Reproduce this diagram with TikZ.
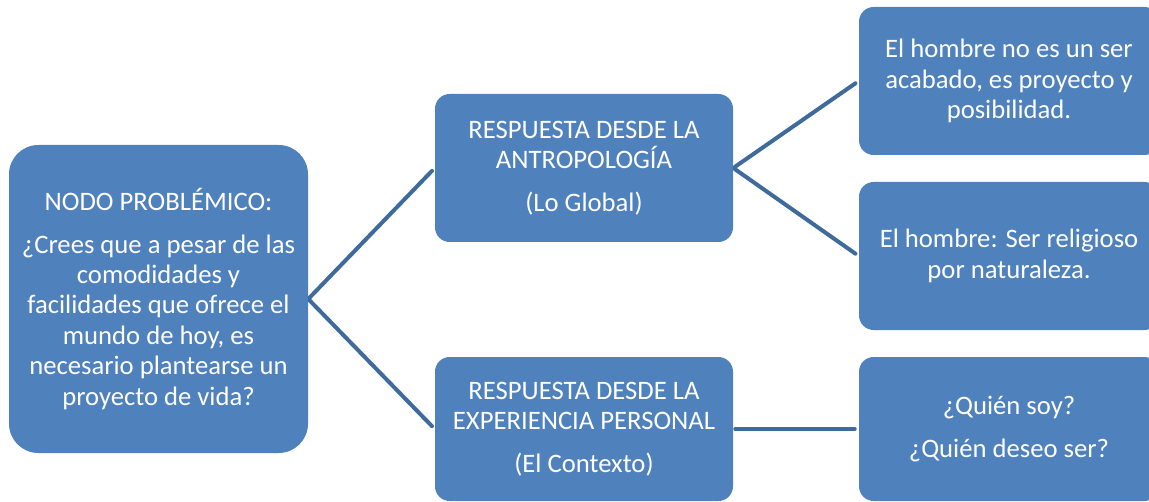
\documentclass[tikz,border=0pt]{standalone}
\usepackage{fontspec}
\setmainfont{Carlito}

\definecolor{boxblue}{HTML}{4F81BD}
\definecolor{lineblue}{HTML}{3F6A9C}

\begin{document}
\begin{tikzpicture}[x=0.75pt,y=-0.75pt,
    box/.style={rectangle, fill=boxblue, text=white, align=center, inner sep=0pt,
                font=\fontsize{20}{22.8}\selectfont},
    bigbox/.style={box, minimum width=224.25pt, minimum height=231pt, rounded corners=22pt},
    midbox/.style={box, minimum width=223.5pt, rounded corners=11pt},
    sidebox/.style={box, minimum width=225pt, rounded corners=11pt}]

        \useasboundingbox (0,0) rectangle (1149,502);

        \begin{scope}
          \node[bigbox] (1) at (158.5,299) {NODO PROBLÉMICO:\\[9pt]
            ¿Crees que a pesar de las\\ comodidades y\\ facilidades que ofrece el\\
            mundo de hoy, es\\ necesario plantearse un\\ proyecto de vida?};
          \node[midbox, minimum height=111pt] (2) at (584,168)
            {RESPUESTA DESDE LA\\ ANTROPOLOGÍA\\[9pt] (Lo Global)};
          \node[midbox, minimum height=108pt] (3) at (584,429)
            {RESPUESTA DESDE LA\\ EXPERIENCIA PERSONAL\\[9pt] (El Contexto)};
          \node[sidebox, minimum height=111pt] (4) at (1009,81)
            {El hombre no es un ser\\ acabado, es proyecto y\\ posibilidad.};
          \node[sidebox, minimum height=111pt] (5) at (1009,256)
            {El hombre: Ser religioso\\ por naturaleza.};
          \node[sidebox, minimum height=108pt] (6) at (1009,429)
            {¿Quién soy?\\[9pt] ¿Quién deseo ser?};
        \end{scope}

        \begin{scope}[every edge/.style={draw=lineblue, line width=3pt, line cap=round,
                                          shorten <=1.5pt, shorten >=3pt}]
          \path (1.east) edge (2.west);
          \path (1.east) edge (3.west);
          \path (2.east) edge (4.west);
          \path (2.east) edge (5.west);
          \path (3.east) edge (6.west);
        \end{scope}

      \end{tikzpicture}
\end{document}
